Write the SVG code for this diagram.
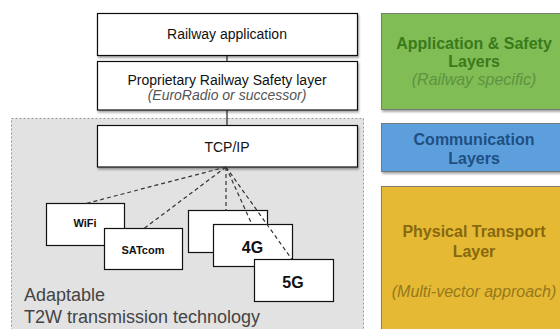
<svg xmlns="http://www.w3.org/2000/svg" width="560" height="329" viewBox="0 0 560 329">
<defs>
<filter id="sh" x="-10%" y="-10%" width="130%" height="140%">
<feDropShadow dx="1" dy="2" stdDeviation="1.2" flood-color="#000" flood-opacity="0.35"/>
</filter>
</defs>
<style>
text{font-family:"Liberation Sans",Arial,Helvetica,sans-serif;text-anchor:middle}
.box{fill:#fff;stroke:#111;stroke-width:1.2}
.main{font-size:14px;fill:#111}
.it{font-style:italic}
.sub{font-size:14px;fill:#555}
.small{font-size:11px;font-weight:bold;fill:#111}
.big{font-size:16px;font-weight:bold;fill:#111}
.layer{stroke:#6a6a6a;stroke-width:0.8}
.lt{font-size:16px;font-weight:bold}
.lit{font-size:16px;font-style:italic}
.dash{fill:none;stroke:#333;stroke-width:1.2;stroke-dasharray:4,3}
.solid{fill:none;stroke:#222;stroke-width:1.2}
</style>
<rect id="region" x="11.5" y="118.5" width="352" height="220" fill="#e2e2e2" stroke="#999" stroke-width="1" stroke-dasharray="2,2"/>
<g id="legend-app">
<rect class="layer" x="381.5" y="13.5" width="185" height="96" fill="#80bd55" filter="url(#sh)"/>
<text class="lt" x="474" y="48.5" fill="#3a7a1c">Application &amp; Safety</text>
<text class="lt" x="474" y="67" fill="#3a7a1c">Layers</text>
<text class="lit" x="474" y="85" fill="#5d9340">(Railway specific)</text>
</g>
<g id="legend-comm">
<rect class="layer" x="381.5" y="123.5" width="185" height="48" fill="#5b9fdc" filter="url(#sh)"/>
<text class="lt" x="474" y="145" fill="#1f4f82">Communication</text>
<text class="lt" x="474" y="163.5" fill="#1f4f82">Layers</text>
</g>
<g id="legend-phys">
<rect class="layer" x="381.5" y="186.5" width="185" height="160" fill="#e6b934" filter="url(#sh)"/>
<text class="lt" x="474" y="236.5" fill="#86690f">Physical Transport</text>
<text class="lt" x="474" y="256.5" fill="#86690f">Layer</text>
<text class="lit" x="474" y="296.5" fill="#95781c">(Multi-vector approach)</text>
</g>
<g id="n-app">
<rect class="box" x="97.5" y="13.5" width="260" height="42" filter="url(#sh)"/>
<text class="main" x="227" y="38.5">Railway application</text>
</g>
<g id="n-safety">
<rect class="box" x="97.5" y="61.5" width="260" height="48.5" filter="url(#sh)"/>
<text class="main" x="227" y="84.5">Proprietary Railway Safety layer</text>
<text class="sub it" x="227" y="99.5">(EuroRadio or successor)</text>
</g>
<g id="n-tcp">
<rect class="box" x="97.5" y="125.5" width="260" height="41.5" filter="url(#sh)"/>
<text class="main" x="227" y="152">TCP/IP</text>
</g>
<g id="n-wifi">
<rect class="box" x="46.5" y="203.5" width="78" height="42"/>
<text class="small" x="85" y="227">WiFi</text>
</g>
<g id="n-sat">
<rect class="box" x="104.5" y="228.5" width="78" height="41"/>
<text class="small" x="143" y="254">SATcom</text>
</g>
<g id="n-blank">
<rect class="box" x="188.5" y="210.5" width="79" height="42"/>
</g>
<g id="n-4g">
<rect class="box" x="213.5" y="224.5" width="79" height="42"/>
<text class="big" x="252.5" y="252.5">4G</text>
</g>
<g id="n-5g">
<rect class="box" x="254.5" y="259.5" width="79" height="42"/>
<text class="big" x="293" y="287.5">5G</text>
</g>
<g id="connectors">
<line class="solid" x1="227" y1="55.5" x2="227" y2="61.5"/>
<line class="solid" x1="227" y1="110" x2="227" y2="125.5"/>
<line class="dash" x1="226" y1="167" x2="86" y2="203.5"/>
<line class="dash" x1="226" y1="167" x2="144" y2="228.5"/>
<line class="dash" x1="226" y1="167" x2="226" y2="210.5"/>
<line class="dash" x1="226" y1="167" x2="252" y2="224.5"/>
<line class="dash" x1="226" y1="167" x2="292" y2="259.5"/>
</g>
<g id="caption">
<text x="24" y="301" font-size="18" fill="#444" style="text-anchor:start">Adaptable</text>
<text x="24" y="323" font-size="18" fill="#444" style="text-anchor:start">T2W transmission technology</text>
</g>
</svg>
